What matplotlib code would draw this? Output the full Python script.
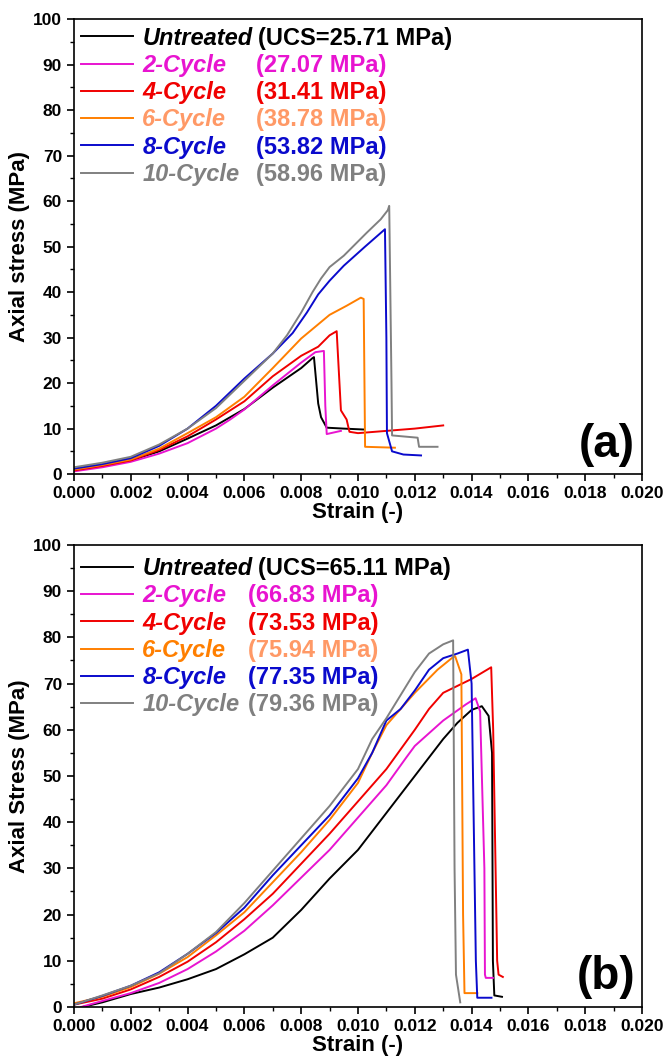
import matplotlib
matplotlib.use("Agg")
import matplotlib.pyplot as plt
from matplotlib.ticker import MultipleLocator, FormatStrFormatter

plt.rcParams['font.family'] = ['Liberation Sans', 'DejaVu Sans']
plt.rcParams['font.weight'] = 'bold'

names = ["Untreated", "2-Cycle", "4-Cycle", "6-Cycle", "8-Cycle", "10-Cycle"]
line_colors = ["#000000", "#E814D0", "#F00000", "#FF7F00", "#0A0ACC", "#808080"]

# panel (a) peak strengths and labels
a_values = ["(UCS=25.71 MPa)", "(27.07 MPa)", "(31.41 MPa)", "(38.78 MPa)", "(53.82 MPa)", "(58.96 MPa)"]
a_name_colors = ["#000000", "#E814D0", "#F00000", "#FF9966", "#0A0ACC", "#808080"]
a_value_colors = ["#000000", "#E814D0", "#F00000", "#FF9966", "#0A0ACC", "#808080"]

# panel (b)
b_values = ["(UCS=65.11 MPa)", "(66.83 MPa)", "(73.53 MPa)", "(75.94 MPa)", "(77.35 MPa)", "(79.36 MPa)"]
b_name_colors = ["#000000", "#E814D0", "#F00000", "#FF7F00", "#0A0ACC", "#808080"]
b_value_colors = ["#000000", "#E814D0", "#F00000", "#FF9966", "#0A0ACC", "#808080"]

# ---- panel (a) curves: strain, stress (MPa)
a_strain_untreated = [0, 0.001, 0.002, 0.003, 0.004, 0.005, 0.006, 0.007, 0.008, 0.0084, 0.00845, 0.0086, 0.0087, 0.0089, 0.0095, 0.0102]
a_stress_untreated = [0.9, 1.8, 3.0, 5.0, 7.8, 10.7, 14.3, 19.0, 23.3, 25.5, 25.71, 15.5, 12.5, 10.2, 10.0, 9.8]

a_strain_2 = [0, 0.001, 0.002, 0.003, 0.004, 0.005, 0.0055, 0.006, 0.007, 0.008, 0.0085, 0.0088, 0.00885, 0.0089, 0.0094]
a_stress_2 = [0.6, 1.5, 2.7, 4.5, 6.8, 10.0, 12.0, 14.2, 19.5, 24.5, 26.8, 27.07, 15.0, 8.8, 9.5]

a_strain_4 = [0, 0.001, 0.002, 0.003, 0.004, 0.005, 0.006, 0.007, 0.008, 0.0086, 0.009, 0.00925, 0.0094, 0.0096, 0.0097, 0.0100, 0.0110, 0.0120, 0.0130]
a_stress_4 = [0.8, 1.8, 3.0, 5.3, 8.3, 12.0, 16.0, 21.5, 26.0, 28.0, 30.5, 31.41, 14.0, 12.0, 9.3, 9.0, 9.5, 10.0, 10.7]

a_strain_6 = [0, 0.001, 0.002, 0.003, 0.004, 0.005, 0.006, 0.007, 0.008, 0.009, 0.0096, 0.0101, 0.0102, 0.01025, 0.0113]
a_stress_6 = [1.0, 2.0, 3.2, 5.6, 9.0, 12.5, 17.0, 23.3, 29.8, 35.0, 37.0, 38.78, 38.5, 6.0, 5.8]

a_strain_8 = [0, 0.001, 0.002, 0.003, 0.004, 0.005, 0.006, 0.007, 0.0077, 0.0082, 0.0086, 0.009, 0.0095, 0.01025, 0.01095, 0.0110, 0.01102, 0.0112, 0.0116, 0.01222]
a_stress_8 = [1.2, 2.2, 3.5, 6.2, 10.0, 15.0, 21.0, 26.5, 31.0, 35.5, 39.5, 42.5, 45.8, 50.0, 53.82, 30.0, 9.0, 5.0, 4.3, 4.1]

a_strain_10 = [0, 0.001, 0.002, 0.003, 0.004, 0.005, 0.006, 0.007, 0.0075, 0.008, 0.0084, 0.0087, 0.0090, 0.0095, 0.0099, 0.0103, 0.0108, 0.01105, 0.0111, 0.01118, 0.0112, 0.0121, 0.01215, 0.0128]
a_stress_10 = [1.5, 2.5, 3.8, 6.5, 10.0, 14.5, 20.5, 26.5, 30.5, 35.5, 40.0, 43.0, 45.5, 48.0, 50.5, 53.0, 56.0, 58.0, 58.96, 20.0, 8.5, 8.0, 6.0, 6.0]

# ---- panel (b) curves
b_strain_untreated = [0.0003, 0.001, 0.002, 0.003, 0.004, 0.005, 0.006, 0.007, 0.008, 0.009, 0.010, 0.011, 0.012, 0.013, 0.0135, 0.014, 0.01436, 0.0146, 0.01472, 0.01475, 0.0148, 0.01507]
b_stress_untreated = [0, 1.0, 2.8, 4.2, 6.0, 8.2, 11.4, 15.0, 21.0, 27.8, 34.0, 42.0, 50.0, 58.0, 61.5, 64.3, 65.11, 63.0, 55.0, 10.0, 2.5, 2.2]

b_strain_2 = [0.00025, 0.001, 0.002, 0.003, 0.004, 0.005, 0.006, 0.007, 0.008, 0.009, 0.010, 0.011, 0.0117, 0.012, 0.013, 0.0138, 0.01414, 0.0143, 0.01445, 0.01447, 0.0145, 0.01475]
b_stress_2 = [0, 1.3, 3.0, 5.2, 8.2, 12.0, 16.5, 22.0, 28.0, 34.0, 41.0, 48.0, 54.0, 56.5, 62.0, 65.5, 66.83, 64.0, 30.0, 7.0, 6.3, 6.3]

b_strain_4 = [0, 0.001, 0.002, 0.003, 0.004, 0.005, 0.006, 0.007, 0.008, 0.009, 0.010, 0.011, 0.012, 0.0125, 0.013, 0.014, 0.01469, 0.01476, 0.0149, 0.01495, 0.0151]
b_stress_4 = [0.5, 1.8, 3.8, 6.5, 9.8, 14.0, 19.0, 24.5, 31.0, 37.5, 44.5, 51.5, 60.0, 64.5, 68.0, 71.0, 73.53, 60.0, 10.0, 7.0, 6.5]

b_strain_6 = [0, 0.001, 0.002, 0.003, 0.004, 0.005, 0.006, 0.007, 0.008, 0.009, 0.010, 0.0105, 0.011, 0.012, 0.0128, 0.0133, 0.01342, 0.01364, 0.0137, 0.01375, 0.0142]
b_stress_6 = [0.8, 2.2, 4.3, 7.2, 10.8, 15.5, 20.5, 27.0, 33.5, 40.5, 48.5, 55.0, 61.0, 68.0, 73.0, 75.5, 75.94, 72.0, 20.0, 3.0, 3.0]

b_strain_8 = [0, 0.001, 0.002, 0.003, 0.004, 0.005, 0.006, 0.007, 0.008, 0.009, 0.010, 0.0105, 0.011, 0.0115, 0.012, 0.0125, 0.013, 0.0135, 0.01387, 0.0140, 0.01415, 0.0142, 0.0147]
b_stress_8 = [0.5, 2.4, 4.6, 7.5, 11.5, 16.0, 21.5, 28.5, 35.0, 41.5, 49.5, 55.0, 62.0, 64.5, 68.5, 73.0, 75.5, 76.5, 77.35, 70.0, 10.0, 2.0, 2.0]

b_strain_10 = [0, 0.001, 0.002, 0.003, 0.004, 0.005, 0.006, 0.007, 0.008, 0.009, 0.010, 0.0105, 0.011, 0.0115, 0.012, 0.0125, 0.013, 0.01335, 0.0134, 0.01345, 0.0136]
b_stress_10 = [0.5, 2.5, 4.6, 7.3, 11.5, 16.2, 22.5, 29.5, 36.5, 43.5, 51.5, 58.0, 62.5, 67.5, 72.5, 76.5, 78.5, 79.36, 30.0, 7.0, 1.0]

a_curves = [(a_strain_untreated, a_stress_untreated), (a_strain_2, a_stress_2), (a_strain_4, a_stress_4),
            (a_strain_6, a_stress_6), (a_strain_8, a_stress_8), (a_strain_10, a_stress_10)]
b_curves = [(b_strain_untreated, b_stress_untreated), (b_strain_2, b_stress_2), (b_strain_4, b_stress_4),
            (b_strain_6, b_stress_6), (b_strain_8, b_stress_8), (b_strain_10, b_stress_10)]

fig = plt.figure(figsize=(6.66, 10.63), dpi=100)
ax_a = fig.add_axes([0.111, 0.554, 0.853, 0.428])
ax_b = fig.add_axes([0.111, 0.0527, 0.853, 0.4346])


def draw_panel(ax, curves, ylabel, tag, name_colors, leg_y):
    lines = []
    for (sx, sy), c, n in zip(curves, line_colors, names):
        ln, = ax.plot(sx, sy, color=c, lw=1.4, label=n)
        lines.append(ln)
    ax.set_xlim(0, 0.020)
    ax.set_ylim(0, 100)
    ax.xaxis.set_major_locator(MultipleLocator(0.002))
    ax.xaxis.set_minor_locator(MultipleLocator(0.001))
    ax.yaxis.set_major_locator(MultipleLocator(10))
    ax.yaxis.set_minor_locator(MultipleLocator(5))
    ax.xaxis.set_major_formatter(FormatStrFormatter('%.3f'))
    ax.tick_params(which='major', direction='out', length=5, width=1.2, labelsize=12.5)
    ax.tick_params(which='minor', direction='out', length=3, width=1.0)
    for sp in ax.spines.values():
        sp.set_linewidth(1.2)
    ax.set_xlabel("Strain (-)", fontsize=16, fontweight='bold', labelpad=1)
    ax.set_ylabel(ylabel, fontsize=16, fontweight='bold', labelpad=2)
    ax.text(0.988, 0.065, tag, transform=ax.transAxes, ha='right', va='center',
            fontsize=33, fontweight='bold')
    leg = ax.legend(handles=lines, loc='upper left', bbox_to_anchor=(0.0, leg_y), frameon=False,
                    prop={'size': 17, 'weight': 'bold', 'style': 'italic'},
                    handlelength=2.2, handletextpad=0.4, labelspacing=0.18,
                    borderaxespad=0.15, borderpad=0.15)
    for t, c in zip(leg.get_texts(), name_colors):
        t.set_color(c)
    return leg


leg_a = draw_panel(ax_a, a_curves, "Axial stress (MPa)", "(a)", a_name_colors, 0.999)
leg_b = draw_panel(ax_b, b_curves, "Axial Stress (MPa)", "(b)", b_name_colors, 0.989)

fig.canvas.draw()
renderer = fig.canvas.get_renderer()


def add_values(ax, leg, values, value_colors, val_x):
    inv = ax.transAxes.inverted()
    for i, (t, v, c) in enumerate(zip(leg.get_texts(), values, value_colors)):
        bb = t.get_window_extent(renderer)
        (x0, y0), (x1, y1) = inv.transform([[bb.x0, bb.y0], [bb.x1, bb.y1]])
        x = x1 + 0.01 if i == 0 else val_x
        ax.text(x, y0, v, transform=ax.transAxes, ha='left', va='bottom',
                fontsize=17, fontweight='bold', color=c)


add_values(ax_a, leg_a, a_values, a_value_colors, 0.320)
add_values(ax_b, leg_b, b_values, b_value_colors, 0.307)

fig.savefig("out.png", dpi=100)
